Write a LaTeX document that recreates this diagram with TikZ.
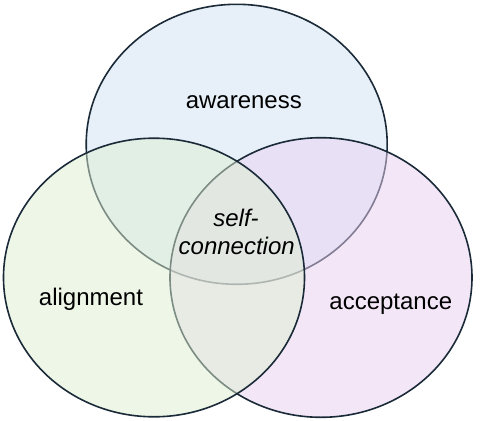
\documentclass[tikz,border=0pt]{standalone}
\usepackage{fontspec}
\setmainfont{Liberation Sans}
\definecolor{edge}{HTML}{1B2A38}
\definecolor{blueC}{HTML}{D1E3F3}
\definecolor{greenC}{HTML}{DDEFD1}
\definecolor{purpleC}{HTML}{E9D1F1}
\tikzset{
  setcircle/.style={draw=edge, line width=1.6pt, fill opacity=0.5, draw opacity=1},
  lbl/.style={anchor=base, inner sep=0pt, font=\fontsize{24}{29}\selectfont},
}
\begin{document}
\begin{tikzpicture}[x=1pt,y=-1pt]
\useasboundingbox (0,0) rectangle (480,421);
\fill[white] (0,0) rectangle (480,421);
\path[setcircle, fill=blueC] (236.7,144.3) ellipse [x radius=150.5, y radius=140];
\path[setcircle, fill=purpleC] (321,277.5) ellipse [x radius=151, y radius=139.8];
\path[setcircle, fill=greenC] (154,277.5) ellipse [x radius=150.5, y radius=139.3];
\node[lbl] (aw) at (243.8,108.5) {awareness};
\node[lbl] (al) at (91,305) {alignment};
\node[lbl] (ac) at (390.8,309.5) {acceptance};
\node[lbl, font=\fontsize{24}{29}\selectfont\itshape] (s1) at (236,226) {self-};
\node[lbl, font=\fontsize{24}{29}\selectfont\itshape] (s2) at (236.7,254.5) {connection};
\end{tikzpicture}
\end{document}
